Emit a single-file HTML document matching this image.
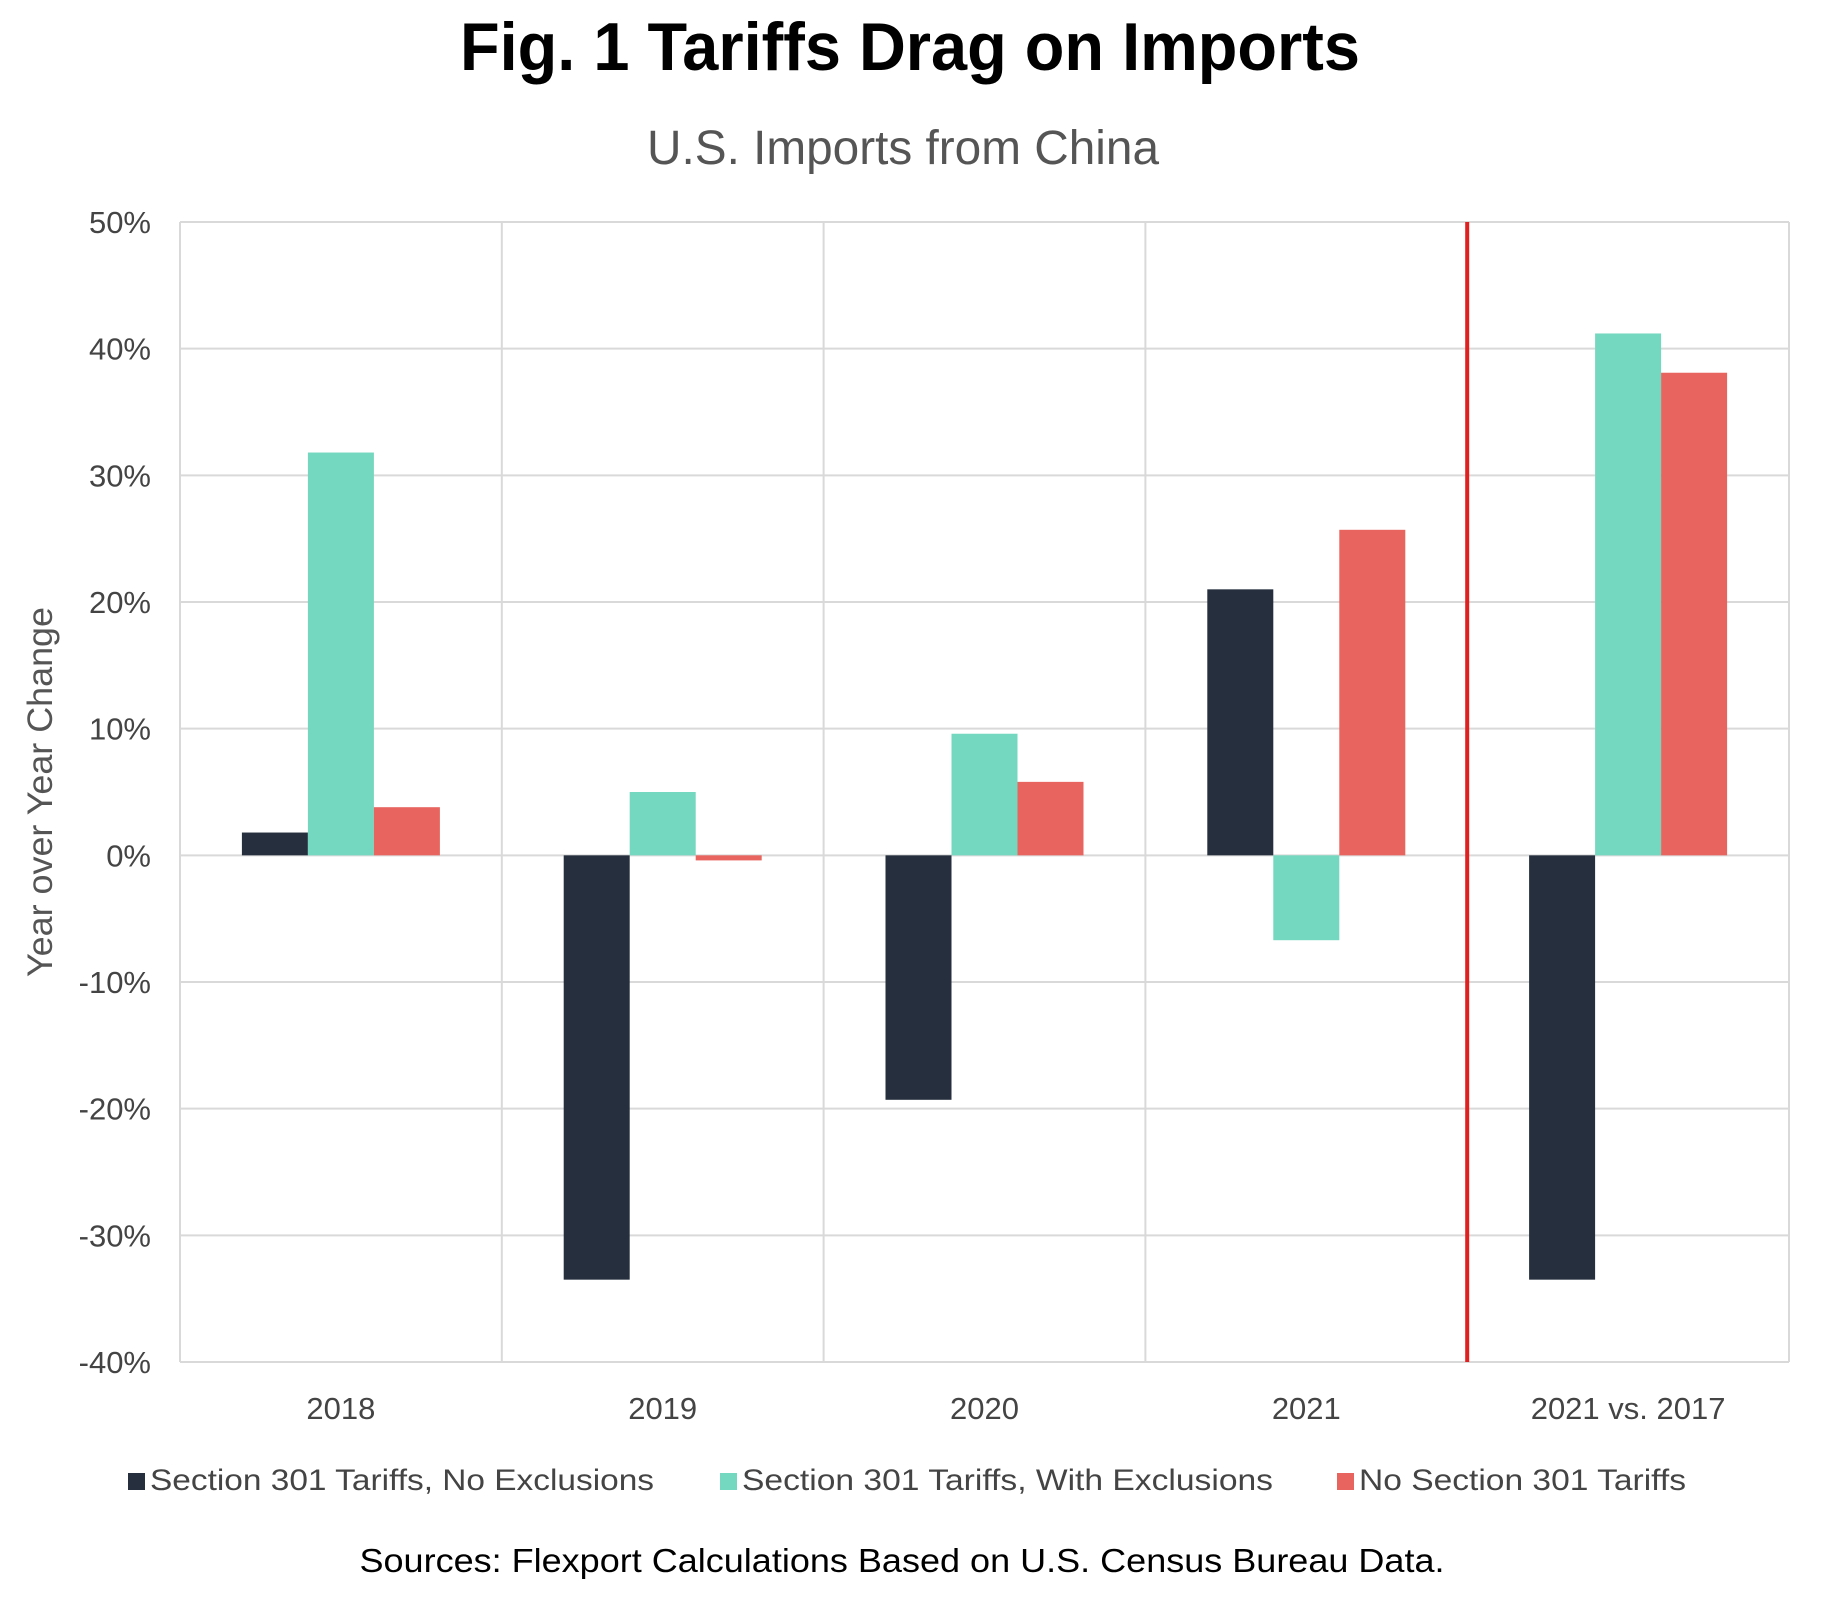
<!DOCTYPE html>
<html><head><meta charset="utf-8"><style>
html,body{margin:0;padding:0;background:#fff;}
svg{display:block;font-family:"Liberation Sans",sans-serif;}
</style></head><body>
<svg id="chart" width="1845" height="1598" viewBox="0 0 1845 1598">
<text x="910" y="70" text-anchor="middle" font-size="68" font-weight="bold" fill="#000" textLength="900" lengthAdjust="spacingAndGlyphs">Fig. 1 Tariffs Drag on Imports</text>
<text x="903" y="164" text-anchor="middle" font-size="48" fill="#555" textLength="512" lengthAdjust="spacingAndGlyphs">U.S. Imports from China</text>
<g id="grid"></g>
<g id="bars"></g>
<g id="axes"></g>
<text transform="translate(52,792) rotate(-90)" text-anchor="middle" font-size="35" fill="#555" textLength="370" lengthAdjust="spacingAndGlyphs">Year over Year Change</text>
<g>
<rect x="128" y="1473" width="17" height="17" fill="#252f3d"/>
<text x="150" y="1490" font-size="30" fill="#444" textLength="504" lengthAdjust="spacingAndGlyphs">Section 301 Tariffs, No Exclusions</text>
<rect x="720" y="1473" width="17" height="17" fill="#74d7bf"/>
<text x="742" y="1490" font-size="30" fill="#444" textLength="531" lengthAdjust="spacingAndGlyphs">Section 301 Tariffs, With Exclusions</text>
<rect x="1337" y="1473" width="17" height="17" fill="#e8645e"/>
<text x="1359" y="1490" font-size="30" fill="#444" textLength="327" lengthAdjust="spacingAndGlyphs">No Section 301 Tariffs</text>
</g>
<text x="902" y="1572" text-anchor="middle" font-size="33" fill="#000" textLength="1085" lengthAdjust="spacingAndGlyphs">Sources: Flexport Calculations Based on U.S. Census Bureau Data.</text>
</svg>
<script>
const categories = ["2018","2019","2020","2021","2021 vs. 2017"];
const noExclusions = [1.8, -33.5, -19.3, 21.0, -33.5];
const withExclusions = [31.8, 5.0, 9.6, -6.7, 41.2];
const noTariffs = [3.8, -0.4, 5.8, 25.7, 38.1];
const yTicks = [50, 40, 30, 20, 10, 0, -10, -20, -30, -40];

const NS = "http://www.w3.org/2000/svg";
const L = 180, R = 1789, T = 222, B = 1362, YMAX = 50, YMIN = -40;
const yScale = v => T + (YMAX - v) / (YMAX - YMIN) * (B - T);
const bandW = (R - L) / categories.length;
const xBand = i => L + i * bandW;
function mk(tag, attrs, parent) {
  const e = document.createElementNS(NS, tag);
  for (const k in attrs) e.setAttribute(k, attrs[k]);
  parent.appendChild(e);
  return e;
}
const grid = document.getElementById("grid");
const bars = document.getElementById("bars");
const axes = document.getElementById("axes");

yTicks.forEach(t => {
  const y = yScale(t);
  const ln = mk("line", {x1: L, x2: R, y1: y, y2: y, stroke: "#d9d9d9", "stroke-width": 2}, grid);
  
  
  const tx = mk("text", {x: 151, y: y + 11, "text-anchor": "end", "font-size": 31, fill: "#444"}, axes);
  tx.textContent = t + "%";
  
  
});
for (let i = 0; i <= categories.length; i++) {
  const x = xBand(i);
  const isSep = i === 4;
  const ln = mk("line", {x1: x, x2: x, y1: T, y2: B, stroke: isSep ? "#e02020" : "#d9d9d9", "stroke-width": isSep ? 4 : 2}, isSep ? axes : grid);
  
  
}
const series = [[noExclusions, "#252f3d", "no-exclusions"], [withExclusions, "#74d7bf", "with-exclusions"], [noTariffs, "#e8645e", "no-tariffs"]];
const barW = 66;
categories.forEach((c, i) => {
  const cx = xBand(i) + bandW / 2;
  const start = cx - barW * 1.5;
  series.forEach((s, j) => {
    const v = s[0][i];
    const y0 = yScale(0), y1 = yScale(v);
    const r = mk("rect", {x: start + j * barW, y: Math.min(y0, y1), width: barW, height: Math.max(1, Math.abs(y1 - y0)), fill: s[1]}, bars);
    
    
  });
  const tx = mk("text", {x: cx, y: 1419, "text-anchor": "middle", "font-size": 31, fill: "#444"}, axes);
  tx.textContent = c;
  
  
});
</script>
</body></html>
